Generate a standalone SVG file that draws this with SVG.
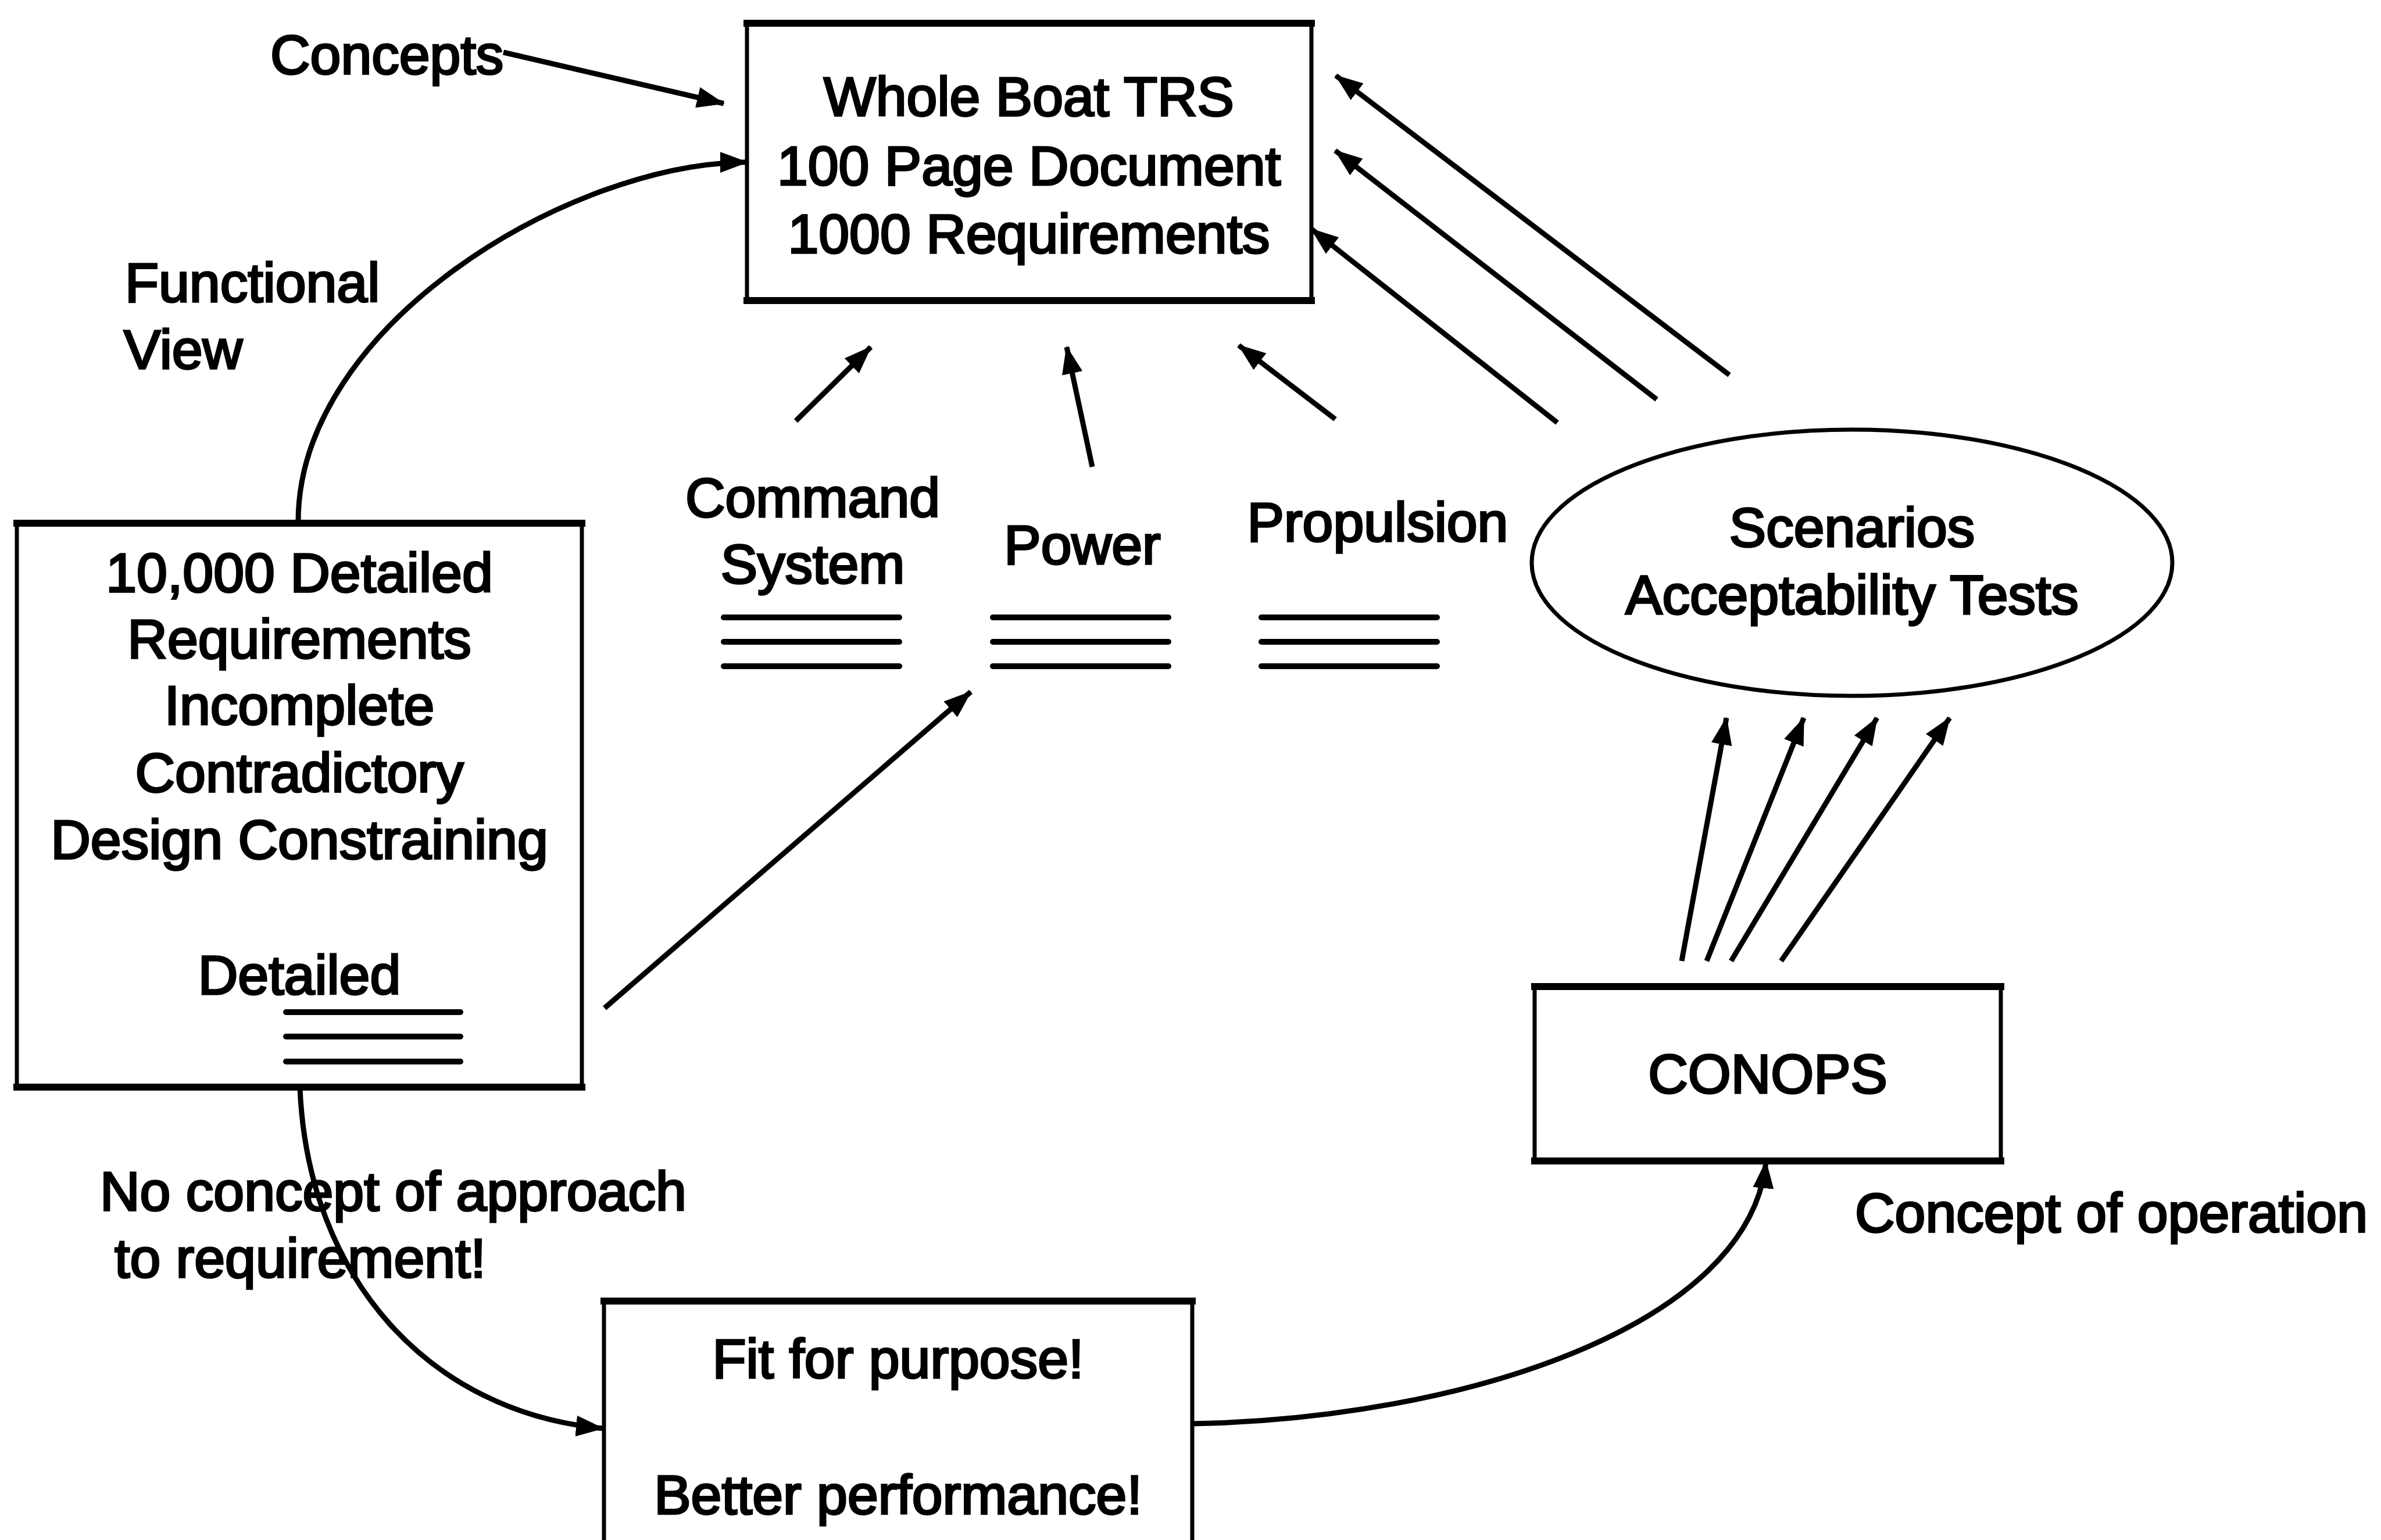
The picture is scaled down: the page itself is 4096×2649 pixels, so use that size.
<svg xmlns="http://www.w3.org/2000/svg" width="4096" height="2649" viewBox="0 0 4096 2649">
  <defs>
    <marker id="arrow" markerUnits="userSpaceOnUse" markerWidth="48" markerHeight="36" viewBox="0 0 48 36" refX="46" refY="18" orient="auto">
      <path d="M0,0 L48,18 L0,36 z" fill="#000"/>
    </marker>
  </defs>
  <style>
    text { font-family: "Liberation Sans", Arial, sans-serif; font-size: 95px; fill: #000; stroke: #000; stroke-width: 3.5px; }
    .c { text-anchor: middle; }
    .box { fill: #fff; stroke: #000; stroke-width: 7; }
    .edge { stroke: #000; stroke-width: 12; stroke-linecap: square; }
    .conn { fill: none; stroke: #000; stroke-width: 9; }
    .arr { marker-end: url(#arrow); }
    .rule { stroke: #000; stroke-width: 10; stroke-linecap: round; }
  </style>
  <rect width="4096" height="2649" fill="#fff"/>

  <!-- Whole boat technical requirements specification -->
  <g id="trs">
    <rect class="box" x="1285" y="40" width="971" height="477"/>
    <line class="edge" x1="1285" y1="40" x2="2256" y2="40"/>
    <line class="edge" x1="1285" y1="517" x2="2256" y2="517"/>
    <text class="c" x="1770" y="199">Whole Boat TRS</text>
    <text class="c" x="1770" y="318">100 Page Document</text>
    <text class="c" x="1770" y="435">1000 Requirements</text>
  </g>

  <!-- Detailed requirements box -->
  <g id="detailed">
    <rect class="box" x="29" y="900" width="972" height="970"/>
    <line class="edge" x1="29" y1="900" x2="1001" y2="900"/>
    <line class="edge" x1="29" y1="1870" x2="1001" y2="1870"/>
    <text class="c" x="515" y="1018">10,000 Detailed</text>
    <text class="c" x="515" y="1132">Requirements</text>
    <text class="c" x="515" y="1246">Incomplete</text>
    <text class="c" x="515" y="1362">Contradictory</text>
    <text class="c" x="515" y="1477">Design Constraining</text>
    <text class="c" x="515" y="1710">Detailed</text>
    <line class="rule" x1="492" y1="1741" x2="792" y2="1741"/>
    <line class="rule" x1="492" y1="1783" x2="792" y2="1783"/>
    <line class="rule" x1="492" y1="1826" x2="792" y2="1826"/>
  </g>

  <!-- Subsystem documents -->
  <g id="command-system">
    <text class="c" x="1398" y="889">Command</text>
    <text class="c" x="1398" y="1003">System</text>
    <line class="rule" x1="1245" y1="1062" x2="1547" y2="1062"/>
    <line class="rule" x1="1245" y1="1104" x2="1547" y2="1104"/>
    <line class="rule" x1="1245" y1="1146" x2="1547" y2="1146"/>
  </g>
  <g id="power">
    <text class="c" x="1862" y="970">Power</text>
    <line class="rule" x1="1708" y1="1062" x2="2010" y2="1062"/>
    <line class="rule" x1="1708" y1="1104" x2="2010" y2="1104"/>
    <line class="rule" x1="1708" y1="1146" x2="2010" y2="1146"/>
  </g>
  <g id="propulsion">
    <text class="c" x="2370" y="931">Propulsion</text>
    <line class="rule" x1="2170" y1="1062" x2="2472" y2="1062"/>
    <line class="rule" x1="2170" y1="1104" x2="2472" y2="1104"/>
    <line class="rule" x1="2170" y1="1146" x2="2472" y2="1146"/>
  </g>

  <!-- Scenarios ellipse -->
  <g id="scenarios">
    <ellipse cx="3186" cy="968" rx="551" ry="229" fill="#fff" stroke="#000" stroke-width="7"/>
    <text class="c" x="3186" y="940">Scenarios</text>
    <text class="c" x="3186" y="1056">Acceptability Tests</text>
  </g>

  <!-- Concept of operations -->
  <g id="conops">
    <rect class="box" x="2640" y="1697" width="802" height="300"/>
    <line class="edge" x1="2640" y1="1697" x2="3442" y2="1697"/>
    <line class="edge" x1="2640" y1="1997" x2="3442" y2="1997"/>
    <text class="c" x="3041" y="1880">CONOPS</text>
  </g>

  <!-- Fit for purpose box (runs off the lower edge) -->
  <g id="fit">
    <rect class="box" x="1039" y="2238" width="1012" height="500"/>
    <line class="edge" x1="1039" y1="2238" x2="2051" y2="2238"/>
    <text class="c" x="1545" y="2370">Fit for purpose!</text>
    <text class="c" x="1545" y="2604">Better performance!</text>
  </g>

  <!-- Free labels -->
  <g id="labels">
    <text x="465" y="127">Concepts</text>
    <text x="215" y="519">Functional</text>
    <text x="213" y="634">View</text>
    <text x="172" y="2082">No concept of approach</text>
    <text x="197" y="2197">to requirement!</text>
    <text x="3191" y="2119">Concept of operation</text>
  </g>

  <!-- Connectors -->
  <g id="connectors">
    <path class="conn arr" d="M866,90 L1245,178"/>
    <path class="conn arr" d="M513,897 C513,560 980,280 1285,279"/>
    <path class="conn arr" d="M516,1872 C530,2200 740,2430 1037,2457"/>
    <path class="conn arr" d="M2051,2449 C2520,2440 3010,2280 3038,1998"/>
    <path class="conn arr" d="M1040,1734 L1670,1190"/>
    <path class="conn arr" d="M1369,724 L1498,597"/>
    <path class="conn arr" d="M1879,803 L1835,597"/>
    <path class="conn arr" d="M2297,721 L2131,594"/>
    <path class="conn arr" d="M2975,645 L2298,130"/>
    <path class="conn arr" d="M2850,687 L2297,259"/>
    <path class="conn arr" d="M2679,727 L2256,394"/>
    <path class="conn arr" d="M2893,1653 L2970,1235"/>
    <path class="conn arr" d="M2936,1653 L3103,1235"/>
    <path class="conn arr" d="M2978,1653 L3229,1235"/>
    <path class="conn arr" d="M3064,1653 L3354,1235"/>
  </g>
</svg>
